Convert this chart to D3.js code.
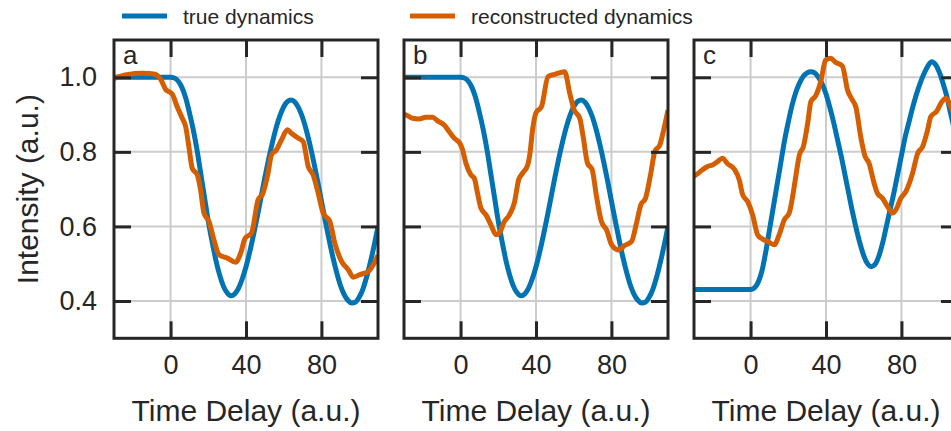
<!DOCTYPE html>
<html>
<head>
<meta charset="utf-8">
<script src="https://cdn.jsdelivr.net/npm/d3@7"></script>
<style>
  html, body { margin: 0; padding: 0; background: #ffffff; }
  svg { display: block; }
  text { font-family: "Liberation Sans", Arial, sans-serif; fill: #262626; }
</style>
</head>
<body>
<svg id="chart" width="951" height="431"></svg>
<script>
// ---------------- data ----------------
const panelLabels = ["a", "b", "c"];
const seriesNames = ["true dynamics", "reconstructed dynamics"];
const xTicks = [0, 40, 80];
const yTicks = [0.4, 0.6, 0.8, 1.0];
const xLabel = "Time Delay (a.u.)";
const yLabel = "Intensity (a.u.)";

// true dynamics, panels a and b (identical)
const trueAB = [[-30,1],[0,1],[2,0.998],[4,0.99],[6,0.973],[8,0.945],[10,0.905],[12,0.86],[14,0.806],[16,0.742],[18,0.678],[20,0.614],[22,0.56],[24,0.51],[26,0.47],[28,0.44],[30,0.422],[32,0.414],[34,0.419],[36,0.434],[38,0.459],[40,0.492],[42,0.532],[44,0.578],[46,0.627],[48,0.679],[50,0.731],[52,0.78],[54,0.825],[56,0.865],[58,0.897],[60,0.921],[62,0.935],[64,0.939],[66,0.933],[68,0.917],[70,0.892],[72,0.858],[74,0.817],[76,0.771],[78,0.721],[80,0.668],[82,0.616],[84,0.566],[86,0.519],[88,0.478],[90,0.443],[92,0.418],[94,0.402],[96,0.395],[98,0.397],[100,0.41],[102,0.432],[104,0.465],[106,0.505],[108,0.55],[110,0.6]];

// true dynamics, panel c
const trueC = [[-30,0.431],[0,0.431],[2,0.435],[4,0.45],[6,0.48],[8,0.53],[10,0.59],[12,0.65],[14,0.71],[16,0.77],[18,0.83],[20,0.88],[22,0.925],[24,0.96],[26,0.985],[28,1.003],[30,1.012],[32,1.015],[34,1.012],[36,1.0],[38,0.982],[40,0.955],[42,0.92],[44,0.88],[46,0.835],[48,0.79],[50,0.74],[52,0.69],[54,0.64],[56,0.595],[58,0.555],[60,0.522],[62,0.5],[64,0.492],[66,0.498],[68,0.52],[70,0.555],[72,0.6],[74,0.645],[76,0.69],[78,0.74],[80,0.79],[82,0.84],[84,0.88],[86,0.92],[88,0.955],[90,0.985],[92,1.01],[94,1.03],[96,1.042],[98,1.035],[100,1.015],[102,0.985],[104,0.95],[106,0.905],[108,0.86],[110,0.81]];

// reconstructed dynamics
const recA = [[-30,0.997],[-24,1.006],[-19,1.01],[-15,1.011],[-11,1.01],[-8,1.008],[-5.3,0.995],[-2.7,0.968],[0.9,0.955],[3.5,0.921],[6.2,0.89],[8,0.868],[9.7,0.814],[11.5,0.756],[14.2,0.738],[15.9,0.698],[17.7,0.636],[20.4,0.613],[23,0.564],[25.7,0.524],[30.1,0.515],[34.5,0.504],[37.2,0.529],[39.5,0.568],[42.9,0.582],[46.4,0.671],[49,0.689],[51.7,0.743],[53.5,0.792],[56.1,0.805],[58.8,0.832],[62,0.859],[64.1,0.85],[67.6,0.837],[70.3,0.828],[73,0.761],[75.6,0.738],[78.3,0.689],[80.9,0.636],[84.5,0.613],[87.1,0.555],[90.7,0.506],[94.2,0.484],[96.9,0.464],[100.4,0.471],[104.8,0.479],[107.5,0.497],[110,0.523]];

const recB = [[-30,0.9],[-29,0.899],[-25.5,0.89],[-22,0.888],[-18.4,0.893],[-14.9,0.893],[-12.2,0.883],[-8.7,0.872],[-6,0.854],[-3.4,0.837],[-0.4,0.823],[1.1,0.805],[2.8,0.77],[5.5,0.738],[7.3,0.729],[9,0.689],[10.8,0.649],[13.5,0.631],[16.1,0.604],[18.8,0.578],[20.5,0.582],[23.2,0.613],[25.9,0.631],[28.5,0.663],[30.8,0.725],[32.9,0.743],[35.6,0.765],[36.8,0.796],[38.2,0.86],[40,0.905],[42.9,0.921],[46.4,1.002],[50,1.008],[55.2,1.015],[57.9,0.957],[60.2,0.913],[63.2,0.89],[65,0.841],[67.3,0.77],[69.8,0.752],[72.1,0.68],[74.7,0.613],[77.4,0.591],[80.1,0.551],[83.6,0.537],[87.1,0.549],[90.7,0.56],[93.3,0.609],[95.6,0.658],[98.1,0.676],[100.9,0.743],[103,0.801],[105.7,0.819],[107.5,0.854],[110,0.912]];

const recC = [[-30,0.735],[-29,0.738],[-25.5,0.752],[-22.8,0.761],[-20.2,0.765],[-17.5,0.774],[-14.9,0.783],[-12.2,0.768],[-8.7,0.754],[-6,0.725],[-4.2,0.685],[-1.6,0.667],[1.1,0.631],[3.7,0.578],[6.4,0.566],[9,0.56],[12.6,0.551],[15.2,0.578],[17.9,0.618],[20.5,0.636],[22.3,0.68],[24.1,0.738],[25.9,0.792],[28,0.814],[30.3,0.877],[32,0.935],[34.5,0.95],[37.2,0.988],[39.8,1.046],[42.5,1.051],[45.1,1.04],[48.7,1.03],[51.4,0.966],[54,0.939],[55.8,0.921],[58.4,0.841],[60.7,0.788],[62.8,0.77],[65.5,0.716],[67.3,0.689],[69.9,0.676],[72.6,0.654],[75.3,0.636],[77.1,0.645],[79.7,0.676],[82.4,0.694],[85.9,0.743],[88.6,0.796],[91.2,0.814],[93.9,0.859],[95.6,0.895],[98.6,0.908],[101.5,0.935],[103.6,0.944],[106.2,0.921],[108,0.9],[110,0.88]];

const trueSeries = [trueAB, trueAB, trueC];
const recSeries = [recA, recB, recC];

// ---------------- drawing ----------------
const colors = ["#0173B2", "#D55E00"];
const ink = "#262626";
const gridColor = "#cccccc";

const svg = d3.select("#chart");
const panelW = 264, panelH = 298.3;
const panelTop = 40, firstLeft = 114, panelStep = 290;

const x = d3.scaleLinear().domain([-30, 110]).range([0, panelW]);
const y = d3.scaleLinear().domain([0.3, 1.1]).range([panelH, 0]);

const line = d3.line().x(d => x(d[0])).y(d => y(d[1])).curve(d3.curveMonotoneX);

const defs = svg.append("defs");
defs.append("clipPath").attr("id", "plotclip")
  .append("rect").attr("x", 0).attr("y", 0).attr("width", panelW).attr("height", panelH);

panelLabels.forEach((lab, i) => {
  const g = svg.append("g").attr("transform", `translate(${firstLeft + i * panelStep},${panelTop})`);

  // grid
  g.append("g").selectAll("line.gx").data(xTicks).join("line")
    .attr("x1", d => x(d)).attr("x2", d => x(d)).attr("y1", 0).attr("y2", panelH)
    .attr("stroke", gridColor).attr("stroke-width", 2);
  g.append("g").selectAll("line.gy").data(yTicks).join("line")
    .attr("x1", 0).attr("x2", panelW).attr("y1", d => y(d)).attr("y2", d => y(d))
    .attr("stroke", gridColor).attr("stroke-width", 2);

  const plot = g.append("g").attr("clip-path", "url(#plotclip)");
  plot.append("path").datum(trueSeries[i]).attr("d", line)
    .attr("fill", "none").attr("stroke", colors[0]).attr("stroke-width", 5)
    .attr("stroke-linejoin", "round");
  plot.append("path").datum(recSeries[i]).attr("d", line)
    .attr("fill", "none").attr("stroke", colors[1]).attr("stroke-width", 5)
    .attr("stroke-linejoin", "round");

  // axes with inward ticks
  const tl = 17;
  const axB = g.append("g").attr("transform", `translate(0,${panelH})`)
    .call(d3.axisBottom(x).tickValues(xTicks).tickSizeInner(-tl).tickSizeOuter(0).tickPadding(17).tickFormat(d3.format("d")));
  const axT = g.append("g")
    .call(d3.axisTop(x).tickValues(xTicks).tickSizeInner(-tl).tickSizeOuter(0).tickFormat(""));
  const axR = g.append("g").attr("transform", `translate(${panelW},0)`)
    .call(d3.axisRight(y).tickValues(yTicks).tickSizeInner(-tl).tickSizeOuter(0).tickFormat(""));
  const axL = g.append("g")
    .call(d3.axisLeft(y).tickValues(yTicks).tickSizeInner(-tl).tickSizeOuter(0).tickPadding(17)
      .tickFormat(i === 0 ? d3.format(".1f") : ""));
  [axB, axT, axR, axL].forEach(ax => {
    ax.select(".domain").remove();
    ax.selectAll(".tick line").attr("stroke", ink).attr("stroke-width", 3);
    ax.selectAll(".tick text").attr("fill", ink).style("font-size", "27px")
      .style("font-family", '"Liberation Sans", Arial, sans-serif');
  });

  // frame
  g.append("rect").attr("x", 0).attr("y", 0).attr("width", panelW).attr("height", panelH)
    .attr("fill", "none").attr("stroke", ink).attr("stroke-width", 3);

  // panel label
  g.append("text").attr("x", 9).attr("y", 23.5).style("font-size", "26px").text(lab);

  // x axis label
  g.append("text").attr("x", panelW / 2).attr("y", 421 - panelTop)
    .attr("text-anchor", "middle").style("font-size", "30px").text(xLabel);
});

// y axis label
svg.append("text")
  .attr("transform", `translate(38,${panelTop + panelH / 2}) rotate(-90)`)
  .attr("text-anchor", "middle").style("font-size", "30px").text(yLabel);

// legend
const legendX = [122, 410];
seriesNames.forEach((name, i) => {
  const lg = svg.append("g").attr("transform", `translate(${legendX[i]},16)`);
  lg.append("line").attr("x1", 0).attr("x2", 45).attr("y1", 0).attr("y2", 0)
    .attr("stroke", colors[i]).attr("stroke-width", 5);
  lg.append("text").attr("x", 61).attr("y", 7.5).style("font-size", "21px").text(name);
});
</script>
</body>
</html>
